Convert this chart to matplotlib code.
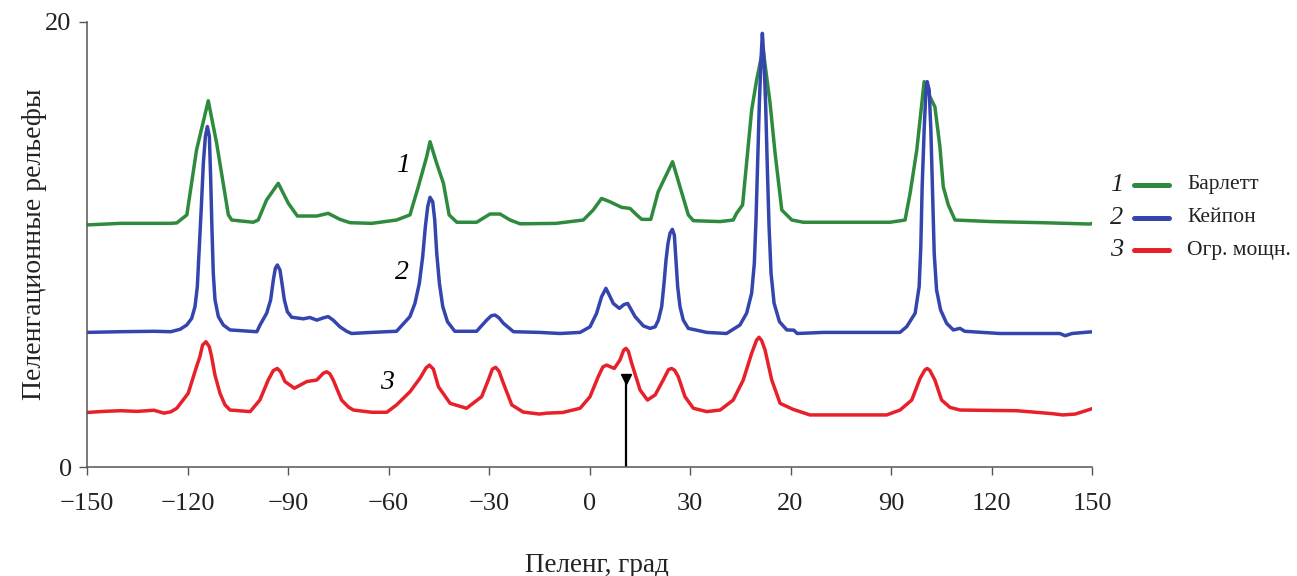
import matplotlib
matplotlib.use("Agg")
import matplotlib.pyplot as plt
from matplotlib.lines import Line2D

# ---------------- data ----------------
bartlett_x = [-150, -140, -130, -125, -123.2, -120.2, -117.3, -113.8, -111.3, -107.8, -106.8, -100.4,
              -98.9, -96.4, -92.9, -89.9, -87.2, -81.4, -78.0, -74.5, -71.5, -65, -57.6, -53.6, -51.1,
              -48.6, -47.6, -45.6, -43.6, -41.9, -39.6, -33.7, -29.7, -26.7, -23.7, -20.7, -10, -1.85,
              1.1, 3.6, 6.1, 9.6, 12.1, 14.1, 15.6, 18.3, 20.5, 24.8, 27.0, 29.5, 31.0, 38.96, 42.9,
              43.9, 45.7, 48.4, 49.9, 51.8, 53.9, 55.4, 57.4, 60.4, 63.8, 75, 89.7, 94.2, 95.7, 97.7,
              99.9, 101.6, 103.1, 104.6, 105.6, 107.1, 109.1, 120, 135, 149.4, 150]
bartlett_y = [10.88, 10.95, 10.95, 10.95, 10.97, 11.33, 14.25, 16.46, 14.55, 11.33, 11.1, 11.0,
              11.1, 12.0, 12.75, 11.85, 11.28, 11.28, 11.4, 11.13, 10.98, 10.95, 11.1, 11.33, 12.6,
              13.95, 14.62, 13.64, 12.75, 11.33, 11.0, 11.0, 11.37, 11.37, 11.1, 10.93, 10.95, 11.1,
              11.55, 12.07, 11.92, 11.67, 11.62, 11.33, 11.13, 11.13, 12.37, 13.72, 12.6, 11.33, 11.07,
              11.03, 11.1, 11.4, 11.78, 16.04, 17.4, 18.8, 16.35, 14.1, 11.55, 11.1, 11.0, 11.0, 11.0,
              11.1, 12.3, 14.25, 17.32, 16.64, 16.19, 14.4, 12.6, 11.78, 11.1, 11.03, 10.98, 10.92, 10.95]

capon_x = [-150, -140, -130, -125, -122.2, -120.24, -118.75, -117.76, -117.07, -116.47,
           -115.87, -115.27, -114.67, -114.07, -113.47, -113.07, -112.69, -112.3, -111.79, -110.79,
           -109.3, -107.3, -99.3, -98.36, -96.37, -95.18, -94.38, -93.78, -93.18, -92.39,
           -91.79, -91.09, -90.19, -88.9, -85.4, -83.5, -81.4, -79.5, -78.0, -76.5,
           -74.5, -72.5, -71, -65, -57.6, -55.6, -53.6, -52.1, -50.8, -49.8,
           -49.0, -48.3, -47.6, -46.8, -46.2, -45.6, -44.8, -43.8, -42.4, -40.2,
           -33.7, -30.7, -29.3, -28.2, -27.0, -25.7, -22.7, -15, -8.8, -2.8,
           0.15, 2.1, 3.6, 4.9, 6.0, 7.1, 8.9, 10.3, 11.4, 12.5,
           13.6, 16.1, 18.1, 19.6, 20.55, 21.55, 22.24, 22.84, 23.43, 24.03,
           24.73, 25.33, 25.82, 26.32, 27.01, 28.0, 29.5, 35, 40.9, 43.0,
           44.9, 46.9, 48.4, 49.2, 49.7, 50.2, 50.7, 51.2, 51.6, 52.1,
           52.6, 53.1, 53.6, 54.2, 55.1, 56.7, 58.9, 61, 62, 70,
           80, 92.7, 94.7, 97.2, 98.4, 98.9, 99.3, 99.9, 100.4, 100.8,
           101.4, 101.9, 102.4, 102.9, 103.6, 104.8, 106.6, 108.6, 110.6, 112,
           122.5, 140.4, 142, 144, 149.4, 150]
capon_y = [6.05, 6.08, 6.1, 6.08, 6.19, 6.38, 6.68, 7.21, 8.10, 9.90,
           11.70, 13.65, 14.85, 15.30, 14.85, 12.9, 10.65, 8.70, 7.51, 6.76,
           6.38, 6.16, 6.08, 6.38, 6.91, 7.51, 8.40, 8.93, 9.08, 8.85,
           8.25, 7.51, 6.98, 6.73, 6.66, 6.72, 6.6, 6.7, 6.76, 6.6,
           6.3, 6.1, 6.0, 6.05, 6.1, 6.43, 6.76, 7.36, 8.25, 9.45,
           10.8, 11.7, 12.12, 11.92, 11.1, 9.6, 8.25, 7.21, 6.53, 6.1,
           6.1, 6.6, 6.8, 6.83, 6.7, 6.46, 6.08, 6.05, 6.0, 6.05,
           6.3, 6.9, 7.65, 8.03, 7.7, 7.35, 7.13, 7.3, 7.35, 7.05,
           6.76, 6.34, 6.23, 6.3, 6.6, 7.21, 8.25, 9.30, 10.05, 10.5,
           10.68, 10.42, 9.30, 8.10, 7.21, 6.6, 6.23, 6.05, 6.0, 6.2,
           6.38, 6.91, 7.81, 9.15, 11.1, 13.8, 16.35, 18.29, 19.49, 18.29,
           16.2, 13.35, 10.8, 8.70, 7.36, 6.53, 6.16, 6.15, 6.0, 6.05,
           6.05, 6.05, 6.31, 6.91, 8.1, 9.9, 12.6, 15.15, 16.87, 17.32,
           16.94, 15.15, 12.3, 9.6, 7.96, 7.06, 6.46, 6.16, 6.23, 6.1,
           6.0, 6.0, 5.9, 6.0, 6.07, 6.07]

power_x = [-150, -145, -140, -135, -130, -127, -125, -123.2, -119.8, -117.3,
           -116.3, -115.5, -114.5, -113.5, -112.8, -111.8, -110.3, -108.8, -107.3, -101.3,
           -98.4, -95.9, -94.4, -93.2, -92.2, -90.9, -88.1, -84.4, -81.4, -79.5,
           -78.5, -77.5, -76.5, -74.0, -72, -70.5, -65, -60.5, -57.6, -53.6,
           -50.6, -48.8, -47.8, -46.6, -45.1, -41.6, -36.7, -32.2, -30.2, -29.0,
           -28.0, -27.0, -25.7, -23.2, -19.8, -15, -12.8, -8, -2.8, 0.15,
           2.6, 4.0, 5.1, 7.4, 9.1, 10.2, 10.9, 11.6, 12.6, 15.1,
           17.3, 19.6, 22.0, 23.6, 24.5, 25.4, 26.5, 28.5, 31.0, 35.0,
           39, 42.9, 45.9, 48.4, 49.9, 50.6, 51.4, 52.4, 54.4, 56.9,
           60.8, 65.8, 80, 88.7, 92.7, 96.2, 98.7, 100.1, 100.8, 101.6,
           103.1, 105.1, 107.6, 110.6, 127.5, 138, 141.3, 145, 149.4, 150]
power_y = [2.45, 2.5, 2.53, 2.5, 2.55, 2.42, 2.48, 2.64, 3.31, 4.51,
           4.96, 5.48, 5.63, 5.41, 4.96, 4.13, 3.31, 2.79, 2.56, 2.49,
           3.01, 3.91, 4.33, 4.43, 4.28, 3.84, 3.54, 3.84, 3.91, 4.21,
           4.28, 4.19, 3.91, 3.01, 2.7, 2.56, 2.46, 2.46, 2.79, 3.38,
           3.99, 4.45, 4.58, 4.4, 3.61, 2.86, 2.64, 3.16, 3.91, 4.4,
           4.48, 4.3, 3.76, 2.79, 2.47, 2.38, 2.42, 2.45, 2.64, 3.16,
           4.06, 4.5, 4.58, 4.43, 4.81, 5.25, 5.33, 5.2, 4.66, 3.46,
           3.01, 3.24, 3.91, 4.38, 4.43, 4.35, 4.06, 3.16, 2.64, 2.49,
           2.56, 3.01, 3.91, 5.11, 5.71, 5.83, 5.68, 5.26, 3.91, 2.86,
           2.59, 2.34, 2.34, 2.34, 2.56, 3.01, 3.99, 4.36, 4.43, 4.34,
           3.91, 3.01, 2.68, 2.56, 2.53, 2.4, 2.34, 2.38, 2.59, 2.62]

series_names = ["Барлетт", "Кейпон", "Огр. мощн."]
series_numbers = ["1", "2", "3"]
series_colors = ["#2E8B3E", "#3545AE", "#E8202A"]

xticks = [-150, -120, -90, -60, -30, 0, 30, 60, 90, 120, 150]
xtick_labels = ["\u2212150", "\u2212120", "\u221290", "\u221260", "\u221230", "0", "30", "20", "90", "120", "150"]
yticks = [0, 20]
ytick_labels = ["0", "20"]

marker_bearing = 10.9
marker_level = 3.95

curve_label_pos = [(-55.7, 13.57), (-56.0, 8.72), (-60.4, 3.78)]

# ---------------- figure ----------------
plt.rcParams["font.family"] = ["Liberation Serif", "DejaVu Serif"]
W, H = 1297, 576
fig = plt.figure(figsize=(W / 100, H / 100), dpi=100)
ax = fig.add_axes([87 / W, 1 - 467 / H, (1092 - 87) / W, (467 - 22) / H])

for xs, ys, c in zip([bartlett_x, capon_x, power_x], [bartlett_y, capon_y, power_y], series_colors):
    ax.plot(xs, ys, color=c, lw=2.5, solid_joinstyle="round", solid_capstyle="round")

# bearing marker
ax.plot([marker_bearing, marker_bearing], [0, marker_level - 0.1], color="black", lw=1.6)
ax.plot([marker_bearing], [marker_level], marker="v", color="black", markersize=7, linestyle="none")

for (lx, ly), num in zip(curve_label_pos, series_numbers):
    ax.text(lx, ly, num, fontsize=20, style="italic", ha="center", va="center")

ax.set_xlim(-150, 150)
ax.set_ylim(0, 20)
ax.set_xticks(xticks, labels=xtick_labels)
ax.set_yticks(yticks, labels=ytick_labels)
ax.tick_params(axis="both", direction="out", length=6, width=1.0, color="#555555",
               labelsize=19, labelcolor="#222222")
ax.tick_params(axis="x", pad=13)
ax.tick_params(axis="y", pad=5)
for s in ["top", "right"]:
    ax.spines[s].set_visible(False)
for s in ["left", "bottom"]:
    ax.spines[s].set_color("#555555")
    ax.spines[s].set_linewidth(1.1)

ax.set_ylabel("Пеленгационные рельефы", fontsize=20, color="#222222", va="center")
ax.yaxis.set_label_coords(-0.052, 0.5)
ax.set_xlabel("Пеленг, град", fontsize=19.5, color="#222222", va="center")
ax.xaxis.set_label_coords(0.507, -0.222)

# manual legend (number, line, name)
rows_y = [185, 218, 250]
for ypx, num, name, c in zip(rows_y, series_numbers, series_names, series_colors):
    fy = 1 - ypx / H
    fig.text(1117 / W, fy, num, fontsize=19, style="italic", ha="center", va="center", color="#222222")
    fig.add_artist(Line2D([1134 / W, 1169 / W], [fy, fy], transform=fig.transFigure,
                          color=c, lw=3.6, solid_capstyle="round"))
    fig.text(1187 / W, fy, name, fontsize=15.5, ha="left", va="center", color="#222222")

fig.savefig("out.png", dpi=100)
